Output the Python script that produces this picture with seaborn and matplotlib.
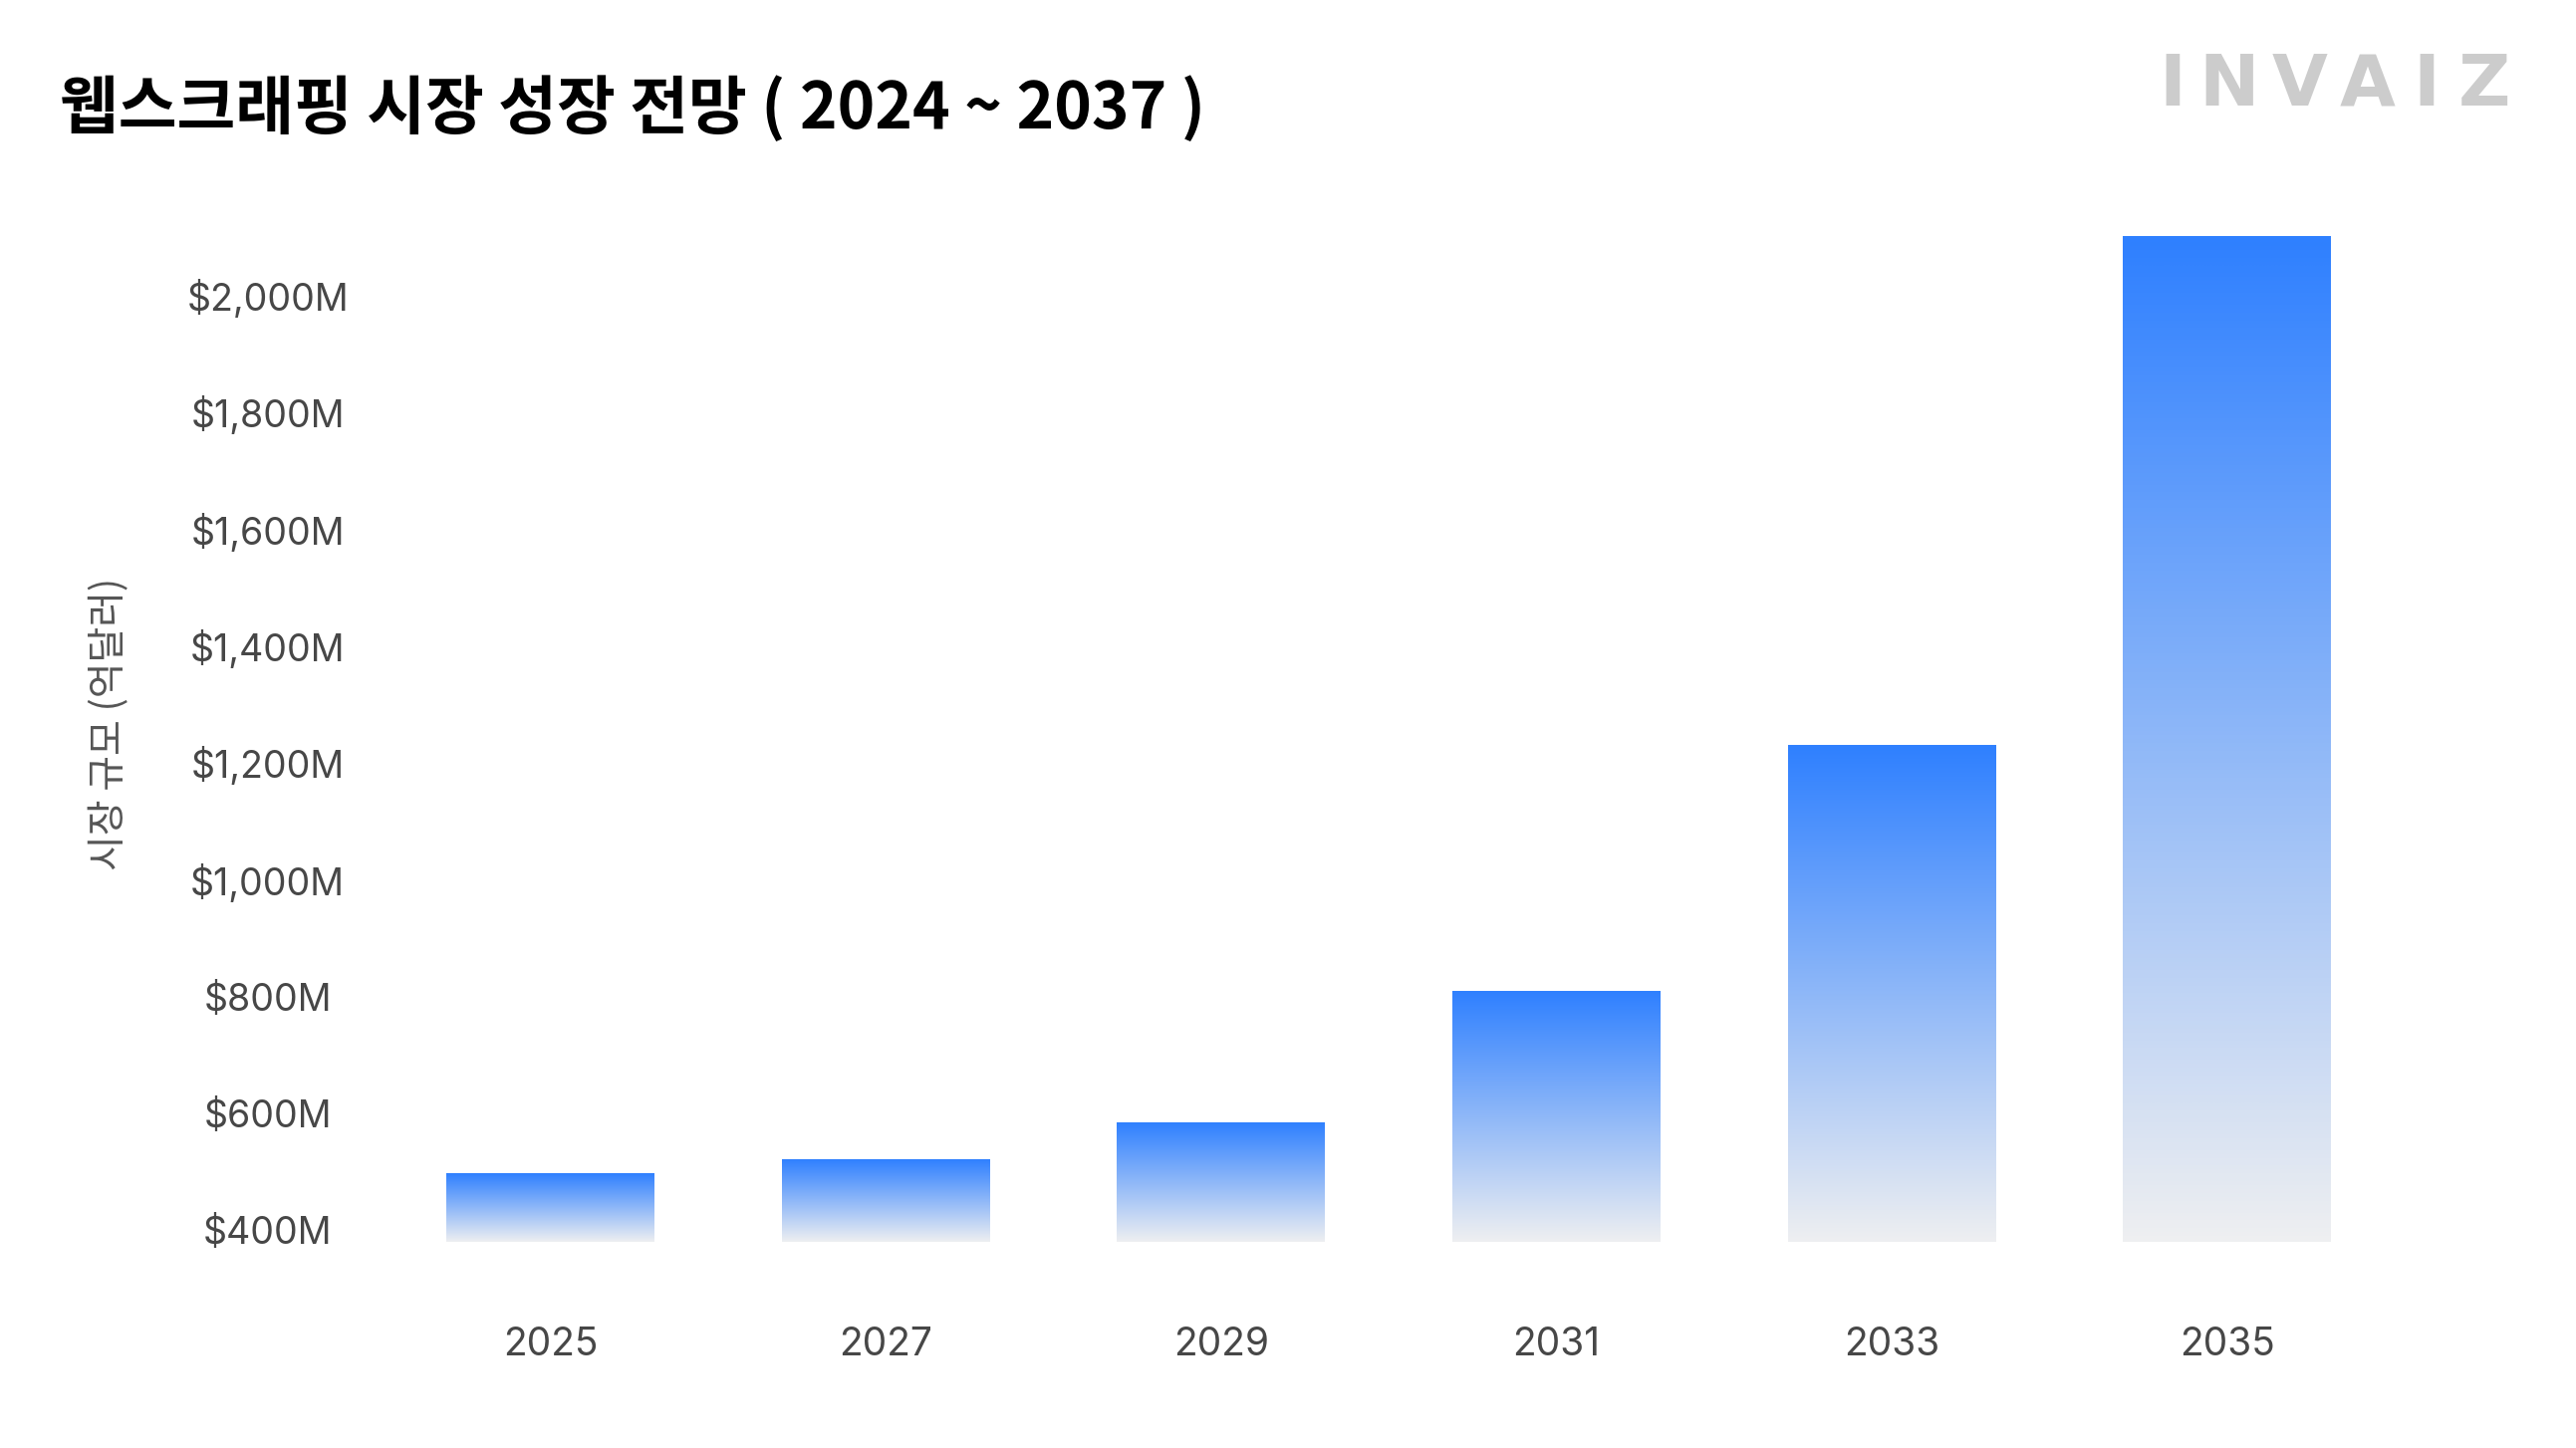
import numpy as np
import pandas as pd
import matplotlib
matplotlib.use('Agg')
import matplotlib.pyplot as plt
import seaborn as sns
from matplotlib.colors import LinearSegmentedColormap

# ---- data ----
years = ['2025', '2027', '2029', '2031', '2033', '2035']
market_size = [496, 521, 583, 808, 1230, 2101]
ytick_values = [400, 600, 800, 1000, 1200, 1400, 1600, 1800, 2000]
ytick_labels = [f'${v:,}M' for v in ytick_values]
title = '웹스크래핑 시장 성장 전망 ( 2024 ~ 2037 )'
ylabel = '시장 규모 (억달러)'
brand = 'INVAIZ'

sns.set_theme(style='white')
plt.rcParams['font.family'] = ['Inter', 'Noto Sans CJK KR', 'DejaVu Sans']

W, H = 2586, 1454
fig = plt.figure(figsize=(W / 100, H / 100), dpi=100)
fig.patch.set_facecolor('white')
ax = fig.add_axes([0.1485, 0.1424, 0.7811, 0.7215])

df = pd.DataFrame({'year': years, 'size': market_size})
sns.barplot(data=df, x='year', y='size', ax=ax, width=0.62, color='#2F80FF')

ymin, ymax = 380, 2168
cmap = LinearSegmentedColormap.from_list('grad', ['#EEEFF1', '#2F80FF'])
grad = np.linspace(0, 1, 256).reshape(-1, 1)
for p in list(ax.patches):
    x0, w, h = p.get_x(), p.get_width(), p.get_height()
    p.set_visible(False)
    ax.imshow(grad, extent=[x0, x0 + w, ymin, h], origin='lower', cmap=cmap,
              aspect='auto', zorder=2, interpolation='bicubic')

ax.set_xlim(-0.5, 5.5)
ax.set_ylim(ymin, ymax)
ax.set_xlabel('')
ax.set_ylabel('')
ax.set_yticks(ytick_values)
ax.set_yticklabels(ytick_labels)
for lbl in ax.get_yticklabels():
    lbl.set_ha('center')
ax.tick_params(axis='y', pad=83, length=0, labelsize=27, labelcolor='#474747')
ax.tick_params(axis='x', pad=61, length=0, labelsize=28, labelcolor='#474747')
sns.despine(ax=ax, left=True, bottom=True)
ax.grid(False)

# title
fig.text(60 / W, 1 - 110 / H, title, fontsize=46, fontweight='heavy', ha='left', va='center',
         color='black', family=['Noto Sans CJK KR', 'DejaVu Sans'])

# y-axis label
fig.text(110 / W, 1 - 727 / H, ylabel, rotation=90, fontsize=28, ha='center', va='center',
         color='#555555', family=['Noto Sans CJK KR', 'DejaVu Sans'])

# brand logo
letter_centers = [2181, 2238, 2309, 2377, 2436, 2494]
for ch, cx in zip(brand, letter_centers):
    fig.text(cx / W, 1 - 87 / H, ch, fontsize=52, fontweight='heavy', ha='center', va='center',
             color='#CCCCCC', family=['DejaVu Sans'])

fig.savefig('out.png', dpi=100, facecolor='white')
